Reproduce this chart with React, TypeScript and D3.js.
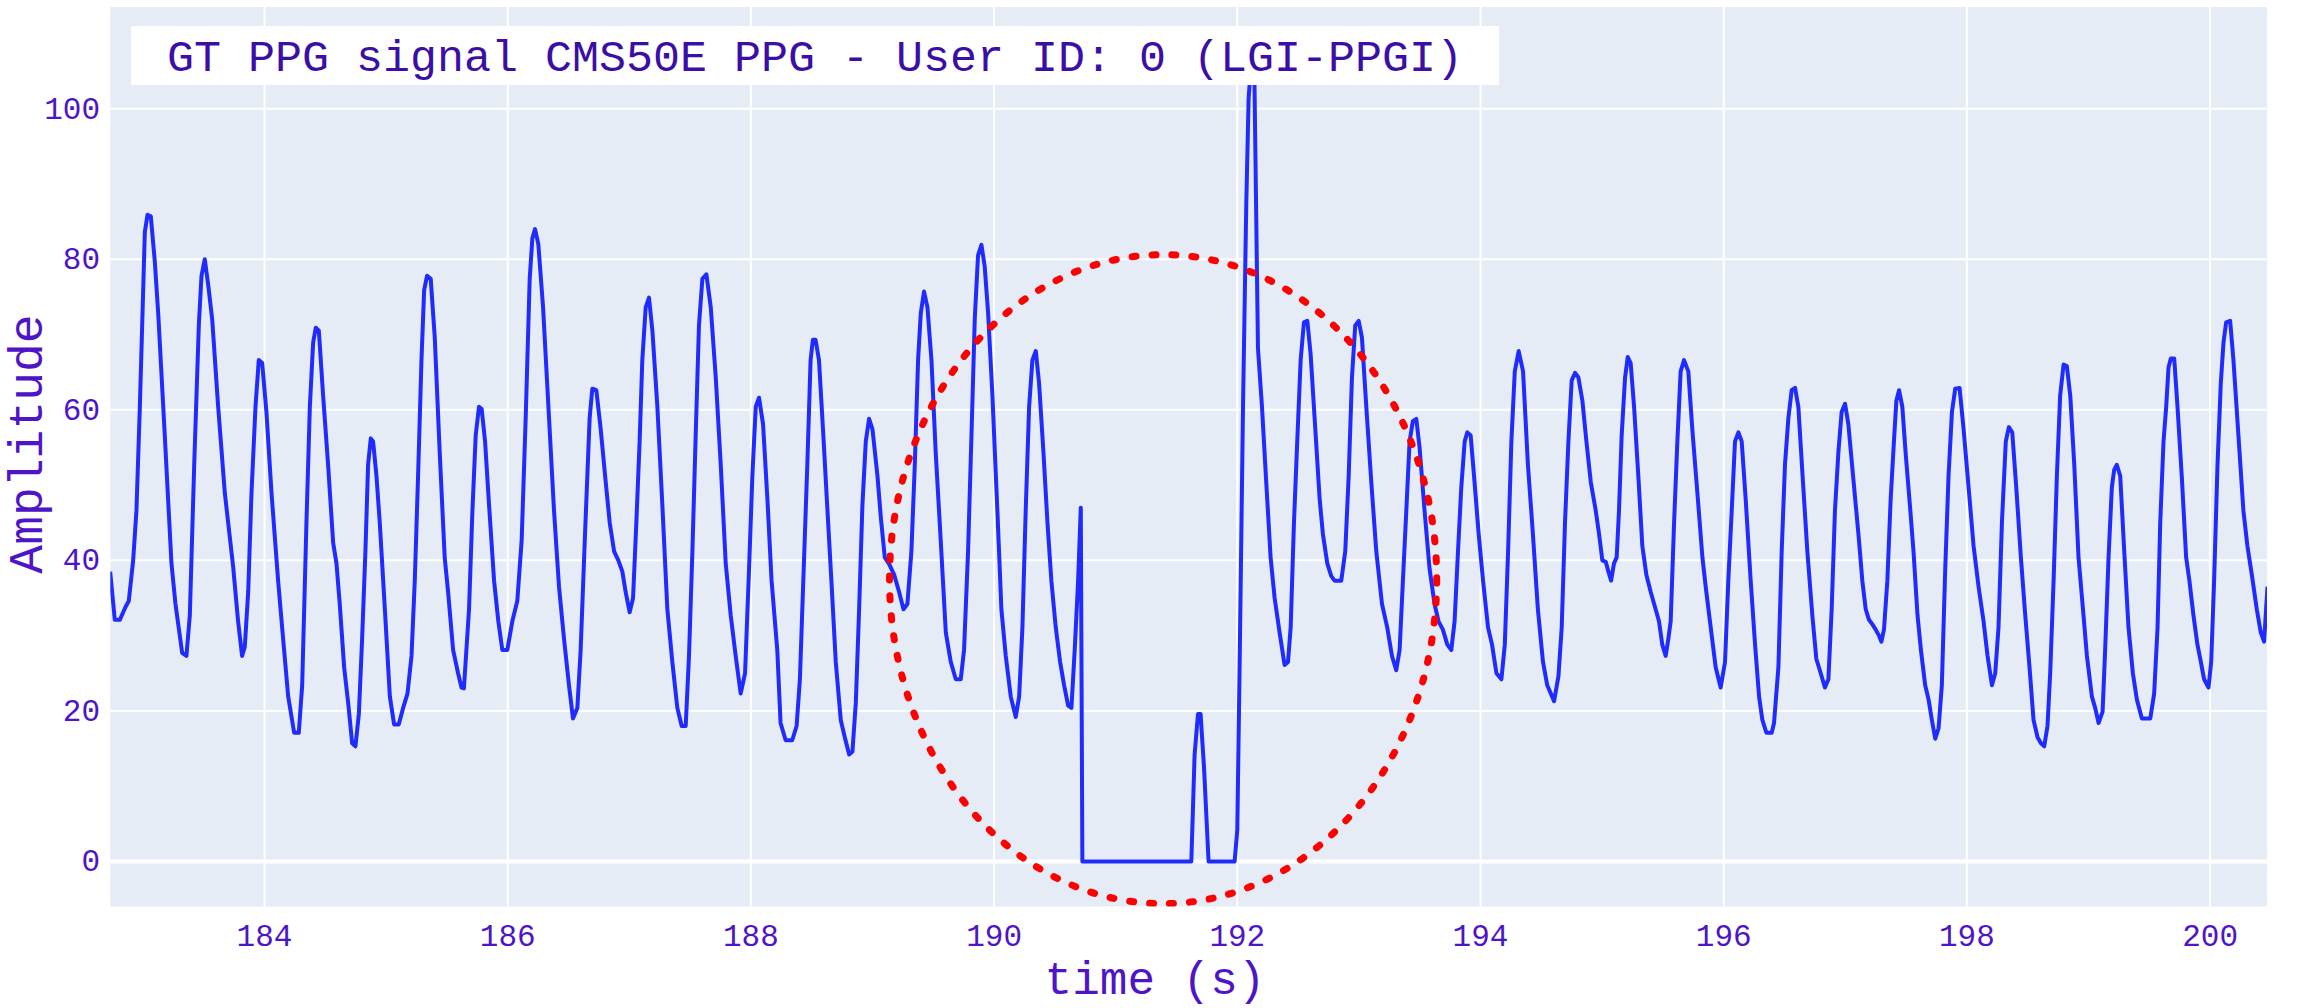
import React from "react";
import * as d3 from "d3";

// [time (s), amplitude]
const ppgSeries: [number, number][] = [
  [182.731, 38.5], [182.769, 32.1], [182.81, 32.1], [182.838, 33.1], [182.857, 33.8], [182.884, 34.6],
  [182.92, 40.0], [182.947, 46.6], [182.975, 60.4], [183.016, 83.6], [183.038, 85.9], [183.065, 85.7],
  [183.098, 79.7], [183.126, 72.8], [183.18, 56.6], [183.235, 39.6], [183.268, 34.2], [183.323, 27.7],
  [183.358, 27.3], [183.386, 32.7], [183.422, 52.7], [183.46, 71.2], [183.482, 77.8], [183.509, 80.0],
  [183.537, 76.6], [183.57, 72.0], [183.619, 60.4], [183.674, 48.9], [183.742, 39.2], [183.783, 31.9],
  [183.816, 27.3], [183.838, 28.5], [183.866, 35.8], [183.893, 48.9], [183.926, 60.4], [183.953, 66.6],
  [183.981, 66.2], [184.016, 59.7], [184.058, 48.9], [184.112, 37.3], [184.153, 29.6], [184.195, 21.9],
  [184.244, 17.1], [184.282, 17.1], [184.31, 23.4], [184.345, 45.0], [184.373, 60.4], [184.4, 68.9],
  [184.422, 70.9], [184.447, 70.5], [184.482, 61.9], [184.523, 52.7], [184.565, 42.3], [184.592, 39.6],
  [184.619, 34.2], [184.655, 25.8], [184.688, 21.1], [184.721, 15.7], [184.748, 15.3], [184.776, 19.6],
  [184.803, 29.6], [184.83, 41.2], [184.852, 52.7], [184.874, 56.2], [184.893, 55.8], [184.921, 51.2],
  [184.948, 45.0], [184.99, 33.5], [185.031, 21.9], [185.066, 18.2], [185.104, 18.2], [185.14, 20.4],
  [185.176, 22.3], [185.209, 27.3], [185.236, 37.3], [185.263, 51.2], [185.291, 66.6], [185.313, 75.9],
  [185.337, 77.8], [185.367, 77.4], [185.4, 69.7], [185.441, 54.3], [185.482, 40.4], [185.51, 35.8],
  [185.551, 28.1], [185.592, 25.0], [185.62, 23.1], [185.64, 23.0], [185.682, 33.5], [185.71, 46.6],
  [185.737, 56.6], [185.764, 60.4], [185.786, 60.1], [185.814, 55.8], [185.847, 47.3], [185.888, 37.3],
  [185.923, 31.9], [185.956, 28.1], [185.997, 28.1], [186.038, 31.9], [186.079, 34.6], [186.115, 42.7],
  [186.148, 58.9], [186.181, 77.4], [186.203, 82.8], [186.225, 84.0], [186.252, 82.0], [186.291, 73.6],
  [186.34, 58.9], [186.381, 46.6], [186.422, 36.5], [186.463, 29.6], [186.504, 23.4], [186.537, 19.0],
  [186.573, 20.4], [186.6, 28.1], [186.636, 43.5], [186.674, 58.9], [186.696, 62.8], [186.729, 62.6],
  [186.765, 57.4], [186.806, 50.4], [186.839, 45.0], [186.875, 41.2], [186.91, 40.0], [186.943, 38.5],
  [186.97, 35.8], [187.003, 33.1], [187.031, 35.0], [187.058, 45.0], [187.085, 55.8], [187.107, 66.6],
  [187.135, 73.6], [187.162, 74.9], [187.19, 70.5], [187.231, 60.4], [187.272, 47.3], [187.313, 33.5],
  [187.354, 26.5], [187.395, 20.4], [187.431, 18.0], [187.464, 18.0], [187.491, 27.3], [187.519, 41.2],
  [187.546, 56.6], [187.573, 71.2], [187.601, 77.4], [187.634, 78.0], [187.67, 73.6], [187.711, 64.3],
  [187.752, 52.7], [187.793, 39.6], [187.834, 32.7], [187.875, 27.3], [187.916, 22.3], [187.952, 25.0],
  [187.985, 38.9], [188.012, 51.2], [188.04, 60.4], [188.067, 61.6], [188.1, 58.1], [188.136, 48.1],
  [188.17, 37.3], [188.217, 28.1], [188.244, 18.4], [188.286, 16.1], [188.34, 16.1], [188.376, 18.0],
  [188.403, 24.2], [188.431, 37.3], [188.464, 52.7], [188.491, 66.6], [188.51, 69.3], [188.532, 69.3],
  [188.56, 66.6], [188.593, 57.4], [188.625, 48.0], [188.662, 37.3], [188.698, 26.5], [188.739, 18.8],
  [188.772, 16.5], [188.808, 14.2], [188.835, 14.6], [188.863, 21.1], [188.89, 33.5], [188.917, 47.3],
  [188.945, 55.8], [188.972, 58.8], [189.0, 57.4], [189.041, 51.2], [189.068, 45.8], [189.101, 40.4],
  [189.137, 39.5], [189.178, 38.1], [189.219, 35.8], [189.255, 33.5], [189.287, 34.2], [189.32, 41.2],
  [189.348, 52.7], [189.375, 66.6], [189.397, 72.8], [189.424, 75.7], [189.452, 73.6], [189.485, 66.6],
  [189.52, 54.3], [189.561, 42.7], [189.603, 30.4], [189.644, 26.5], [189.685, 24.2], [189.726, 24.2],
  [189.753, 28.1], [189.786, 41.2], [189.814, 56.6], [189.841, 72.0], [189.868, 80.5], [189.896, 81.9],
  [189.923, 79.0], [189.951, 72.8], [189.986, 62.0], [190.027, 46.6], [190.06, 33.5], [190.096, 27.3],
  [190.137, 21.9], [190.178, 19.2], [190.206, 21.9], [190.233, 31.1], [190.26, 46.6], [190.288, 60.4],
  [190.315, 66.6], [190.343, 67.8], [190.37, 63.5], [190.406, 54.3], [190.439, 45.0], [190.471, 37.3],
  [190.507, 31.1], [190.543, 26.5], [190.576, 23.4], [190.609, 20.7], [190.636, 20.4], [190.663, 28.1],
  [190.691, 37.3], [190.713, 47.0], [190.726, 0], [191.622, 0], [191.649, 14.2], [191.677, 19.6],
  [191.698, 19.6], [191.726, 12.6], [191.764, 0], [191.978, 0], [192.0, 4.2], [192.019, 25.8],
  [192.047, 60.4], [192.074, 87.4], [192.093, 101.3], [192.12, 107.5], [192.138, 107.5], [192.17, 68.2],
  [192.203, 60.4], [192.238, 50.4], [192.274, 40.4], [192.307, 35.0], [192.348, 30.4], [192.389, 26.1],
  [192.417, 26.5], [192.439, 31.1], [192.466, 45.0], [192.493, 55.8], [192.521, 66.6], [192.548, 71.6],
  [192.576, 71.8], [192.603, 67.4], [192.636, 58.9], [192.677, 48.2], [192.704, 43.5], [192.74, 39.6],
  [192.773, 37.9], [192.8, 37.3], [192.855, 37.3], [192.888, 41.2], [192.916, 51.2], [192.943, 64.3],
  [192.97, 71.2], [192.998, 71.8], [193.025, 69.6], [193.061, 60.4], [193.102, 50.4], [193.143, 41.2],
  [193.19, 34.2], [193.233, 31.1], [193.272, 27.3], [193.307, 25.4], [193.335, 28.1], [193.362, 37.3],
  [193.39, 46.6], [193.417, 55.8], [193.444, 58.5], [193.472, 58.8], [193.499, 55.0], [193.54, 46.6],
  [193.581, 38.9], [193.622, 34.2], [193.655, 31.9], [193.691, 30.8], [193.727, 28.8], [193.76, 28.1],
  [193.787, 31.9], [193.815, 41.2], [193.842, 49.7], [193.87, 55.8], [193.892, 57.0], [193.919, 56.6],
  [193.947, 51.2], [193.985, 43.5], [194.021, 37.3], [194.062, 31.1], [194.095, 28.8], [194.131, 25.0],
  [194.172, 24.2], [194.2, 28.8], [194.227, 41.2], [194.254, 55.8], [194.282, 65.1], [194.314, 67.8],
  [194.35, 65.1], [194.39, 52.7], [194.431, 43.5], [194.472, 33.5], [194.514, 26.5], [194.549, 23.4],
  [194.605, 21.3], [194.641, 24.6], [194.668, 31.1], [194.695, 45.0], [194.723, 55.8], [194.75, 63.9],
  [194.778, 64.9], [194.805, 64.3], [194.838, 61.2], [194.871, 55.8], [194.907, 50.4], [194.948, 46.6],
  [194.975, 43.5], [195.002, 40.0], [195.03, 39.8], [195.052, 38.5], [195.074, 37.3], [195.098, 39.6],
  [195.12, 40.4], [195.139, 46.6], [195.161, 56.6], [195.189, 64.3], [195.211, 67.0], [195.235, 66.2],
  [195.263, 60.4], [195.298, 51.2], [195.331, 41.9], [195.364, 38.1], [195.4, 35.8], [195.435, 33.8],
  [195.468, 31.9], [195.495, 28.8], [195.523, 27.3], [195.545, 29.6], [195.564, 31.9], [195.592, 45.0],
  [195.619, 55.8], [195.646, 65.1], [195.674, 66.6], [195.709, 65.1], [195.742, 57.4], [195.784, 48.9],
  [195.825, 40.4], [195.852, 36.5], [195.893, 31.1], [195.934, 25.8], [195.975, 23.1], [196.011, 26.5],
  [196.038, 37.3], [196.066, 46.6], [196.093, 55.8], [196.121, 57.0], [196.148, 55.8], [196.181, 48.1],
  [196.222, 37.3], [196.258, 28.8], [196.291, 21.9], [196.318, 18.8], [196.351, 17.1], [196.395, 17.1],
  [196.414, 18.4], [196.45, 25.8], [196.477, 41.2], [196.504, 52.7], [196.532, 58.9], [196.559, 62.6],
  [196.587, 62.9], [196.614, 60.4], [196.652, 50.4], [196.688, 41.2], [196.729, 32.7], [196.762, 26.9],
  [196.798, 25.0], [196.833, 23.1], [196.861, 24.2], [196.888, 33.5], [196.915, 46.6], [196.943, 54.3],
  [196.97, 59.7], [196.998, 60.8], [197.025, 58.1], [197.064, 51.2], [197.108, 43.5], [197.14, 37.3],
  [197.168, 33.5], [197.195, 32.1], [197.223, 31.5], [197.25, 30.8], [197.277, 30.0], [197.297, 29.2],
  [197.318, 30.8], [197.346, 37.3], [197.373, 48.1], [197.4, 55.8], [197.42, 61.2], [197.442, 62.6],
  [197.469, 60.4], [197.496, 54.3], [197.533, 47.0], [197.561, 41.2], [197.594, 32.7], [197.622, 28.1],
  [197.657, 23.4], [197.685, 21.5], [197.712, 18.8], [197.74, 16.3], [197.767, 17.7], [197.794, 23.4],
  [197.822, 38.9], [197.849, 51.2], [197.877, 59.7], [197.904, 62.8], [197.94, 62.9], [197.973, 57.4],
  [198.014, 49.7], [198.055, 41.9], [198.096, 36.5], [198.137, 31.9], [198.17, 27.3], [198.206, 23.4],
  [198.233, 25.0], [198.26, 31.1], [198.288, 45.0], [198.32, 55.8], [198.345, 57.7], [198.373, 57.0],
  [198.406, 49.7], [198.444, 40.4], [198.48, 32.7], [198.515, 25.8], [198.548, 18.8], [198.581, 16.5],
  [198.609, 15.7], [198.636, 15.3], [198.663, 18.0], [198.685, 25.0], [198.713, 37.3], [198.74, 51.2],
  [198.767, 61.9], [198.795, 66.0], [198.822, 65.8], [198.85, 61.9], [198.883, 52.7], [198.918, 40.4],
  [198.959, 32.7], [198.987, 27.3], [199.028, 21.9], [199.055, 20.4], [199.083, 18.4], [199.116, 19.9],
  [199.137, 28.1], [199.165, 40.4], [199.192, 49.7], [199.211, 52.0], [199.233, 52.7], [199.261, 51.2],
  [199.294, 41.2], [199.329, 31.1], [199.365, 25.0], [199.398, 21.5], [199.439, 19.0], [199.508, 19.0],
  [199.54, 22.3], [199.568, 31.1], [199.59, 45.0], [199.617, 55.8], [199.639, 60.4], [199.658, 65.6],
  [199.677, 66.8], [199.705, 66.8], [199.732, 60.4], [199.767, 51.2], [199.803, 40.4], [199.83, 37.3],
  [199.863, 32.7], [199.896, 28.8], [199.924, 26.5], [199.951, 24.2], [199.987, 23.1], [200.009, 26.5],
  [200.033, 37.3], [200.061, 52.7], [200.088, 63.5], [200.11, 68.9], [200.132, 71.6], [200.165, 71.8],
  [200.192, 66.6], [200.233, 56.6], [200.274, 46.6], [200.307, 41.9], [200.343, 38.1], [200.384, 33.5],
  [200.417, 30.4], [200.444, 29.2], [200.472, 36.5],
];

const xTicks = [184, 186, 188, 190, 192, 194, 196, 198, 200];
const yTicks = [0, 20, 40, 60, 80, 100];
const xDomain = [182.732, 200.468];
const yDomain = [-5.98, 113.5];
// highlighted region (ellipse bounding box in data units)
const ellipseX = [189.14, 193.64];
const ellipseY = [-5.6, 80.6];

const titleText = "GT PPG signal CMS50E PPG - User ID: 0 (LGI-PPGI)";
const xLabel = "time (s)";
const yLabel = "Amplitude";

const FONT = "'Courier New', 'Liberation Mono', monospace";
const TEXT_COLOR = "#4d14c8";
const TITLE_COLOR = "#3b0fa6";

export default function App() {
  const W = 2315;
  const H = 1008;
  const plot = { left: 110.3, right: 2267, top: 7, bottom: 906.5 };

  const x = d3.scaleLinear().domain(xDomain).range([plot.left, plot.right]);
  const y = d3.scaleLinear().domain(yDomain).range([plot.bottom, plot.top]);

  const linePath = d3
    .line<[number, number]>()
    .x((d) => x(d[0]))
    .y((d) => y(d[1]))(ppgSeries) as string;

  const ecx = x((ellipseX[0] + ellipseX[1]) / 2);
  const ecy = y((ellipseY[0] + ellipseY[1]) / 2);
  const erx = (x(ellipseX[1]) - x(ellipseX[0])) / 2;
  const ery = (y(ellipseY[0]) - y(ellipseY[1])) / 2;

  return (
    <svg
      width={W}
      height={H}
      viewBox={`0 0 ${W} ${H}`}
      style={{ position: "absolute", left: 0, top: 0, background: "#fff" }}
    >
      <defs>
        <clipPath id="plotClip">
          <rect x={plot.left} y={plot.top} width={plot.right - plot.left} height={plot.bottom - plot.top} />
        </clipPath>
      </defs>
      <rect width={W} height={H} fill="#ffffff" />
      <rect
        x={plot.left}
        y={plot.top}
        width={plot.right - plot.left}
        height={plot.bottom - plot.top}
        fill="#e5ecf6"
      />
      {/* grid */}
      {xTicks.map((t) => (
        <line key={"gx" + t} x1={x(t)} x2={x(t)} y1={plot.top} y2={plot.bottom} stroke="#fff" strokeWidth={2} />
      ))}
      {yTicks.map((v) => (
        <line
          key={"gy" + v}
          x1={plot.left}
          x2={plot.right}
          y1={y(v)}
          y2={y(v)}
          stroke="#fff"
          strokeWidth={v === 0 ? 4 : 2}
        />
      ))}
      <g clipPath="url(#plotClip)">
        <path d={linePath} fill="none" stroke="#1f2bff" strokeWidth={4} strokeLinejoin="round" />
        <ellipse
          cx={ecx}
          cy={ecy}
          rx={erx}
          ry={ery}
          fill="none"
          stroke="#ff0000"
          strokeWidth={7}
          strokeDasharray="4 16"
          strokeLinecap="round"
        />
      </g>
      {/* tick labels */}
      {xTicks.map((t) => (
        <text
          key={"tx" + t}
          x={x(t)}
          y={946}
          textAnchor="middle"
          fontFamily={FONT}
          fontSize={31}
          fill={TEXT_COLOR}
        >
          {t}
        </text>
      ))}
      {yTicks.map((v) => (
        <text
          key={"ty" + v}
          x={100}
          y={y(v) + 10}
          textAnchor="end"
          fontFamily={FONT}
          fontSize={31}
          fill={TEXT_COLOR}
        >
          {v}
        </text>
      ))}
      {/* axis titles */}
      <text x={1155} y={994} textAnchor="middle" fontFamily={FONT} fontSize={46} fill={TEXT_COLOR}>
        {xLabel}
      </text>
      <text
        transform={`translate(42, 444) rotate(-90)`}
        textAnchor="middle"
        fontFamily={FONT}
        fontSize={48}
        fill={TEXT_COLOR}
      >
        {yLabel}
      </text>
      {/* title box */}
      <rect x={131} y={26} width={1368} height={59} fill="#ffffff" />
      <text x={815} y={71} textAnchor="middle" fontFamily={FONT} fontSize={45} fill={TITLE_COLOR}>
        {titleText}
      </text>
    </svg>
  );
}
